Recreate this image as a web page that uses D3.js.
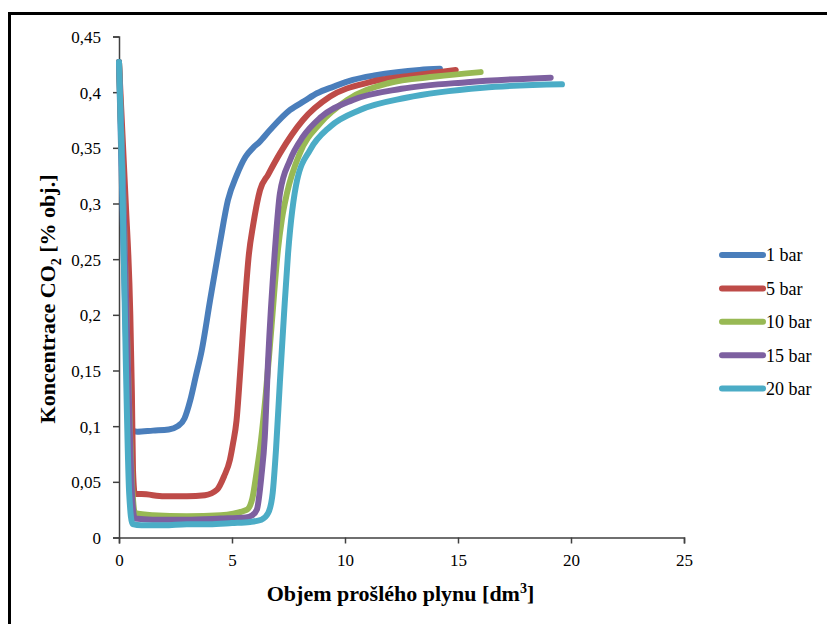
<!DOCTYPE html>
<html>
<head>
<meta charset="utf-8">
<script src="https://cdn.jsdelivr.net/npm/d3@7/dist/d3.min.js"></script>
<style>
  body { margin: 0; background: #fff; }
  svg text { fill: #000; }
</style>
</head>
<body>
<div id="chart"></div>
<script>
// series names + colours (Excel 2007 palette)
var seriesNames = ["1 bar", "5 bar", "10 bar", "15 bar", "20 bar"];
var seriesColors = ["#4A7EBB", "#BE4B48", "#98B954", "#7D60A0", "#4BACC6"];

// x = objem [dm3], y = koncentrace CO2 [% obj.]
var x1 = [0, 0.15, 0.35, 0.5, 0.8, 1.5, 2.2, 2.6, 2.9, 3.15, 3.4, 3.66, 4.03, 4.47, 4.82, 5.2, 5.6, 5.93, 6.2, 6.68, 7.57, 8.2, 8.76, 9.5, 10.35, 11.3, 12.3, 13.3, 14.2];
var y1 = [0.427, 0.3, 0.15, 0.097, 0.095, 0.096, 0.097, 0.1, 0.107, 0.123, 0.145, 0.168, 0.213, 0.265, 0.303, 0.325, 0.342, 0.350, 0.355, 0.366, 0.384, 0.392, 0.399, 0.405, 0.411, 0.415, 0.418, 0.420, 0.421];

var x5 = [0, 0.3, 0.5, 0.57, 0.62, 0.7, 1.0, 2.0, 3.0, 3.8, 4.34, 4.65, 4.91, 5.05, 5.2, 5.35, 5.5, 5.75, 5.93, 6.24, 6.6, 7.12, 8.14, 9.34, 11.1, 13.0, 14.9];
var y5 = [0.427, 0.3, 0.2, 0.13, 0.06, 0.039, 0.039, 0.037, 0.037, 0.038, 0.043, 0.055, 0.07, 0.085, 0.105, 0.145, 0.19, 0.255, 0.28, 0.312, 0.326, 0.345, 0.375, 0.396, 0.409, 0.415, 0.42];

var x10 = [0, 0.2, 0.4, 0.6, 0.7, 1.5, 3.0, 4.5, 5.66, 5.9, 6.1, 6.24, 6.5, 6.75, 7.03, 7.2, 7.43, 8.0, 8.9, 10.1, 11.9, 14.0, 16.0];
var y10 = [0.427, 0.3, 0.15, 0.04, 0.022, 0.02, 0.019, 0.02, 0.025, 0.035, 0.06, 0.08, 0.13, 0.19, 0.258, 0.285, 0.309, 0.345, 0.372, 0.393, 0.408, 0.414, 0.418];

var x15 = [0, 0.2, 0.4, 0.6, 0.7, 1.5, 3.0, 4.5, 5.6, 5.9, 6.1, 6.3, 6.45, 6.6, 6.9, 7.12, 7.57, 8.14, 8.9, 10.35, 12.5, 15.4, 19.1];
var y15 = [0.427, 0.3, 0.15, 0.03, 0.017, 0.016, 0.016, 0.017, 0.018, 0.02, 0.025, 0.055, 0.09, 0.16, 0.258, 0.309, 0.339, 0.36, 0.377, 0.393, 0.403, 0.409, 0.413];

var x20 = [0, 0.15, 0.3, 0.45, 0.6, 1.0, 2.0, 3.0, 4.0, 5.0, 5.8, 6.3, 6.6, 6.8, 6.95, 7.12, 7.3, 7.48, 7.88, 8.45, 9.34, 10.66, 12.7, 16.1, 19.6];
var y20 = [0.427, 0.32, 0.16, 0.04, 0.012, 0.011, 0.011, 0.012, 0.012, 0.013, 0.014, 0.016, 0.022, 0.04, 0.08, 0.14, 0.2, 0.255, 0.321, 0.348, 0.369, 0.384, 0.395, 0.404, 0.407];

var xTicks = [0, 5, 10, 15, 20, 25];
var yTicks = [0, 0.05, 0.1, 0.15, 0.2, 0.25, 0.3, 0.35, 0.4, 0.45];

var allX = [x1, x5, x10, x15, x20];
var allY = [y1, y5, y10, y15, y20];

var series = seriesNames.map(function(name, i) {
  return {
    name: name,
    color: seriesColors[i],
    values: allX[i].map(function(x, j) { return { x: x, y: allY[i][j] }; })
  };
});

var width = 827, height = 624;
var margin = { left: 119, right: 143, top: 36.5, bottom: 86.5 };
var serif = "'Liberation Serif', 'Times New Roman', serif";

var svg = d3.select('#chart').append('svg')
  .attr('width', width)
  .attr('height', height);

svg.append('rect')
  .attr('width', width).attr('height', height)
  .attr('fill', '#fff');

// outer frame (runs off the right / bottom edge)
svg.append('rect')
  .attr('x', 9.5).attr('y', 13.5)
  .attr('width', 840).attr('height', 640)
  .attr('fill', 'none')
  .attr('stroke', '#000')
  .attr('stroke-width', 3);

var xScale = d3.scaleLinear().domain([0, 25]).range([margin.left, width - margin.right]);
var yScale = d3.scaleLinear().domain([0, 0.45]).range([height - margin.bottom, margin.top]);

var fmt = function(d) { return String(d).replace('.', ','); };

var xAxis = svg.append('g')
  .attr('transform', 'translate(0,' + yScale(0) + ')')
  .call(d3.axisBottom(xScale).tickValues(xTicks).tickSize(6).tickFormat(fmt));

var yAxis = svg.append('g')
  .attr('transform', 'translate(' + xScale(0) + ',0)')
  .call(d3.axisLeft(yScale).tickValues(yTicks).tickSize(6).tickFormat(fmt));

[xAxis, yAxis].forEach(function(ax) {
  ax.attr('font-family', serif).attr('font-size', 17);
  ax.select('.domain').attr('stroke', '#404040').attr('stroke-width', 1.5);
  ax.selectAll('.tick line').attr('stroke', '#404040').attr('stroke-width', 1.5);
  ax.selectAll('.tick text').attr('fill', '#000');
});
xAxis.selectAll('.tick text').attr('dy', null).attr('y', 28);
yAxis.selectAll('.tick text').attr('x', -18).attr('dy', '0.35em');

var line = d3.line()
  .x(function(d) { return xScale(d.x); })
  .y(function(d) { return yScale(d.y); })
  .curve(d3.curveMonotoneX);

svg.append('g').selectAll('path')
  .data(series)
  .enter()
  .append('path')
  .attr('d', function(d) { return line(d.values); })
  .attr('fill', 'none')
  .attr('stroke', function(d) { return d.color; })
  .attr('stroke-width', 6)
  .attr('stroke-linecap', 'round')
  .attr('stroke-linejoin', 'round');

// axis titles
var xt = svg.append('text')
  .attr('x', (xScale(0) + xScale(25)) / 2 - 1)
  .attr('y', 601)
  .attr('text-anchor', 'middle')
  .attr('font-family', serif)
  .attr('font-size', 22)
  .attr('font-weight', 'bold');
xt.append('tspan').text('Objem prošlého plynu [dm');
xt.append('tspan').attr('font-size', 14).attr('dy', -8).text('3');
xt.append('tspan').attr('dy', 8).text(']');

var yt = svg.append('text')
  .attr('transform', 'translate(55,' + 299 + ') rotate(-90)')
  .attr('text-anchor', 'middle')
  .attr('font-family', serif)
  .attr('font-size', 22)
  .attr('font-weight', 'bold');
yt.append('tspan').text('Koncentrace CO');
yt.append('tspan').attr('font-size', 14).attr('dy', 6).text('2');
yt.append('tspan').attr('dy', -6).text(' [% obj.]');

// legend
var legend = svg.append('g').selectAll('.legend')
  .data(series)
  .enter()
  .append('g')
  .attr('class', 'legend')
  .attr('transform', function(d, i) { return 'translate(722,' + (255 + i * 33.4) + ')'; });

legend.append('line')
  .attr('x1', 0).attr('x2', 41)
  .attr('stroke', function(d) { return d.color; })
  .attr('stroke-width', 6)
  .attr('stroke-linecap', 'round');

legend.append('text')
  .attr('x', 44)
  .attr('dy', '0.35em')
  .attr('font-family', serif)
  .attr('font-size', 18)
  .text(function(d) { return d.name; });
</script>
</body>
</html>
